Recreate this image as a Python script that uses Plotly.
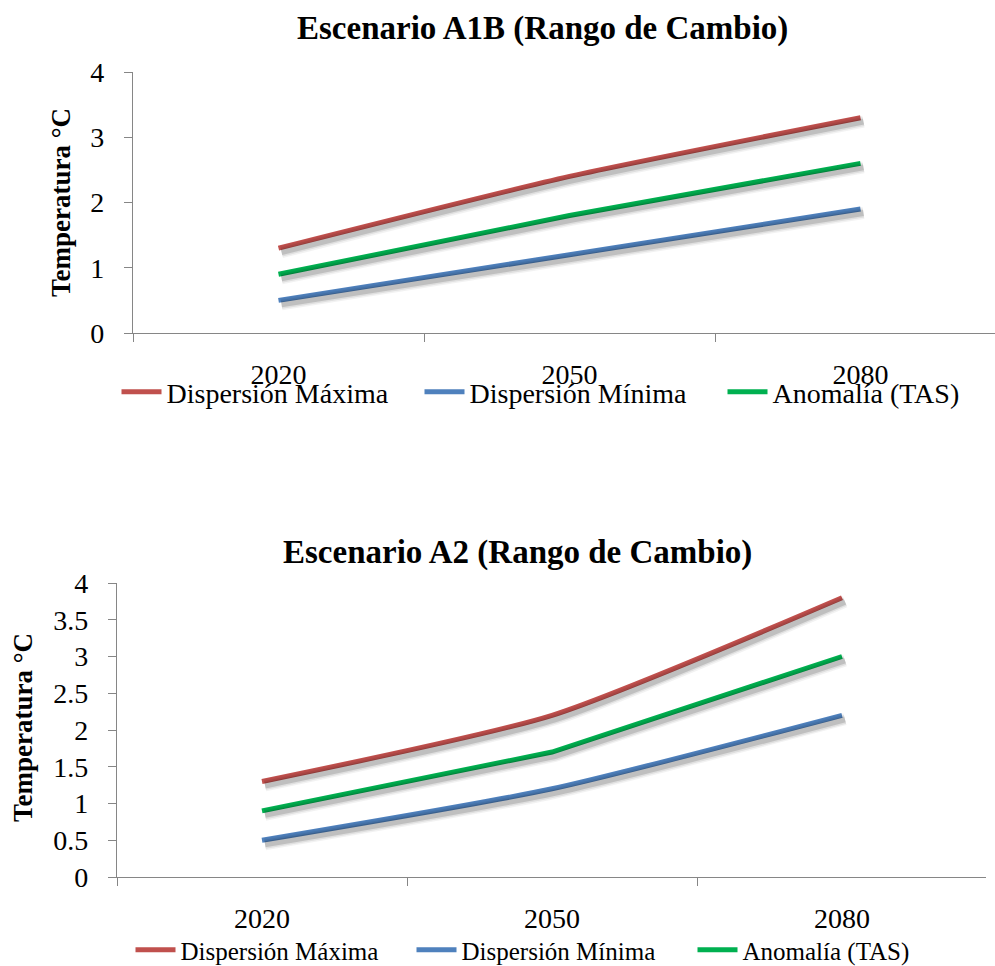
import plotly.graph_objects as go

years = ["2020", "2050", "2080"]
series_names = ["Dispersión Máxima", "Dispersión Mínima", "Anomalía (TAS)"]
colors = ["#C0504D", "#4F81BD", "#00B050"]

a1b_max = [1.3, 2.4, 3.3]
a1b_min = [0.5, 1.2, 1.9]
a1b_tas = [0.9, 1.8, 2.6]

a2_max = [1.3, 2.2, 3.8]
a2_min = [0.5, 1.2, 2.2]
a2_tas = [0.9, 1.7, 3.0]

W, H = 995, 966
FONT = "Liberation Serif"
AX = "#868686"

# layout in pixels
top = dict(x0=133, x1=995, ytop=72, ybot=333, cat=291.0)
bot = dict(x0=117, x1=986, ytop=583, ybot=877, cat=290.0)


def dom(p):
    return [p["x0"] / W, p["x1"] / W], [1 - p["ybot"] / H, 1 - p["ytop"] / H]


fig = go.Figure()

panels = [
    (top, [a1b_max, a1b_min, a1b_tas], "legend", 1.0, 16),
    (bot, [a2_max, a2_min, a2_tas], "legend2", 0.5, 16),
]

shadow_dx, shadow_dy = 3, 4
for i, (p, data, leg, dt, stand) in enumerate(panels):
    xd, yd = dom(p)
    xr = [-0.5, -0.5 + (p["x1"] - p["x0"]) / p["cat"]]
    pxu = (p["ybot"] - p["ytop"]) / 4.0
    n = "" if i == 0 else "2"
    sn = str(3 + i)  # shadow axes
    fig.update_layout(**{
        f"xaxis{sn}": dict(domain=xd, type="category", categoryorder="array",
                           categoryarray=years,
                           range=[xr[0] - shadow_dx / p["cat"], xr[1] - shadow_dx / p["cat"]],
                           visible=False, anchor=f"y{sn}"),
        f"yaxis{sn}": dict(domain=yd, range=[shadow_dy / pxu, 4 + shadow_dy / pxu],
                           visible=False, anchor=f"x{sn}"),
    })
    for vals, nm, c in zip(data, series_names, colors):
        shape = "linear" if nm.startswith("Anomal") else "spline"
        for w, a in [(12, 0.05), (9, 0.08), (6, 0.14)]:
            fig.add_trace(go.Scatter(x=years, y=vals, mode="lines", showlegend=False,
                                     hoverinfo="skip",
                                     line=dict(color=f"rgba(0,0,0,{a})", width=w,
                                               shape=shape, smoothing=0.6),
                                     xaxis=f"x{sn}", yaxis=f"y{sn}"))
    for vals, nm, c in zip(data, series_names, colors):
        shape = "linear" if nm.startswith("Anomal") else "spline"
        fig.add_trace(go.Scatter(x=years, y=vals, mode="lines", name=nm, legend=leg,
                                 line=dict(color=c, width=5, shape=shape, smoothing=0.6),
                                 xaxis=f"x{n}", yaxis=f"y{n}"))
    fig.update_layout(**{
        f"xaxis{n}": dict(domain=xd, type="category", categoryorder="array",
                          categoryarray=years, range=xr, anchor=f"y{n}",
                          showline=True, linecolor=AX, linewidth=1.3,
                          ticks="outside", ticklen=8, tickcolor=AX, tickwidth=1.3,
                          tickson="boundaries", showgrid=False, zeroline=False,
                          ticklabelstandoff=stand,
                          tickfont=dict(family=FONT, size=28, color="#000")),
        f"yaxis{n}": dict(domain=yd, range=[0, 4], dtick=dt, anchor=f"x{n}",
                          showline=True, linecolor=AX, linewidth=1.3,
                          ticks="outside", ticklen=8, tickcolor=AX, tickwidth=1.3,
                          showgrid=False, zeroline=False, ticklabelstandoff=14,
                          tickfont=dict(family=FONT, size=28, color="#000")),
    })

ann = [
    dict(text="<b>Escenario A1B (Rango de Cambio)</b>", x=542 / W, y=1 - 28 / H),
    dict(text="<b>Escenario A2 (Rango de Cambio)</b>", x=517 / W, y=1 - 552 / H),
]
for a in ann:
    fig.add_annotation(xref="paper", yref="paper", xanchor="center", yanchor="middle",
                       showarrow=False, font=dict(family=FONT, size=33, color="#000"), **a)
for xc, yc in [(61, 203), (23, 728)]:
    fig.add_annotation(xref="paper", yref="paper", x=xc / W, y=1 - yc / H,
                       xanchor="center", yanchor="middle", showarrow=False,
                       textangle=-90, text="<b>Temperatura °C</b>",
                       font=dict(family=FONT, size=27, color="#000"))

fig.update_layout(
    width=W, height=H,
    margin=dict(l=0, r=0, t=0, b=0, autoexpand=False),
    paper_bgcolor="white", plot_bgcolor="rgba(0,0,0,0)",
    legend=dict(orientation="h", x=571 / W, y=1 - 392 / H, xanchor="center",
                yanchor="middle", font=dict(family=FONT, size=28, color="#000"),
                bgcolor="rgba(0,0,0,0)", itemwidth=40, entrywidth=248),
    legend2=dict(orientation="h", x=552 / W, y=1 - 950 / H, xanchor="center",
                 yanchor="middle", font=dict(family=FONT, size=25, color="#000"),
                 bgcolor="rgba(0,0,0,0)", itemwidth=40, entrywidth=226),
    showlegend=True,
)

fig.write_html("out.html")
